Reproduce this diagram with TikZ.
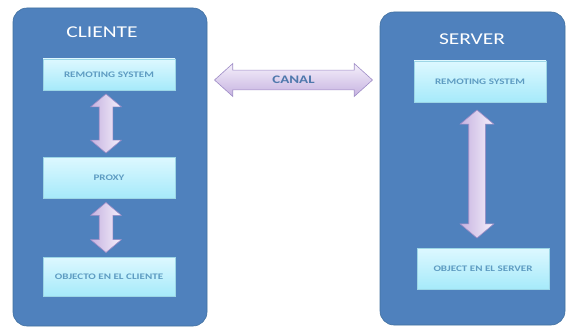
\documentclass[tikz,border=0pt]{standalone}
\usepackage{fontspec}
\setmainfont{Carlito}
\newfontfamily\widefont[FakeStretch=1.3]{Carlito}
\usetikzlibrary{
    shapes.arrows,
    shadows,
    calc,
    positioning
}
\definecolor{panelblue}{HTML}{4F81BD}
\definecolor{paneledge}{HTML}{41709F}
\definecolor{layertop}{HTML}{DDF8FF}
\definecolor{layerbot}{HTML}{A6EAFA}
\definecolor{layeredge}{HTML}{9CD6E6}
\definecolor{layertext}{HTML}{5E9CC2}
\definecolor{linktop}{HTML}{F5F0FB}
\definecolor{linkbot}{HTML}{C6B2E0}
\definecolor{linkedge}{HTML}{9E8CC6}
\definecolor{canaltext}{HTML}{4F78AC}
\tikzset{
    panel/.style={draw=paneledge, fill=panelblue, rounded corners=14pt,
      line width=0.6pt},
    paneltitle/.style={text=white, font=\widefont\fontsize{16.5}{18}\selectfont},
    layer/.style={draw=layeredge, top color=layertop, bottom color=layerbot,
      minimum width=132pt, inner sep=0pt, text=layertext,
      font=\widefont\bfseries\fontsize{8.5}{10}\selectfont,
      drop shadow={shadow xshift=0.8pt, shadow yshift=-0.8pt,
        opacity=0.35, fill=black!70}},
    link/.style={double arrow, draw=linkedge, line width=0.6pt,
      top color=linktop, bottom color=linkbot, inner xsep=0pt},
    vlink/.style={double arrow, draw=linkedge, line width=0.6pt,
      rotate=90, left color=linkbot, right color=linktop,
      inner xsep=0pt, inner ysep=6.5pt, double arrow head extend=8.5pt,
      double arrow tip angle=100}
  }

\begin{document}
\begin{tikzpicture}[x=1pt, y=-1pt]
\useasboundingbox (0,0) rectangle (571,329);

% the two sides
\node[panel, minimum width=194pt, minimum height=318pt]
  at (110,167) (cliente) {};

\node[panel, minimum width=185pt, minimum height=313pt]
  at (472.5,168.5) (server) {};

\node[paneltitle] at (102,32) (cliente_title) {CLIENTE};
\node[paneltitle] at (472,39) (server_title) {SERVER};

% client stack
\node[layer, minimum height=31pt]
  at (109,74.5) (c_remoting) {REMOTING SYSTEM};

\node[layer, minimum height=41pt]
  at (109,177.5) (c_proxy) {PROXY};

\node[layer, minimum height=39pt]
  at (109,276.5) (c_object) {OBJECTO EN EL CLIENTE};

% server stack
\node[layer, minimum height=41pt]
  at (480,81.5) (s_remoting) {REMOTING SYSTEM};

\node[layer, minimum height=41pt]
  at (483,268.5) (s_object) {OBJECT EN EL SERVER};

% links
\node[vlink, minimum height=59pt]
  at ($(c_remoting.south)!0.5!(c_proxy.north)+(-3,0)$) (c_link_one) {};

\node[vlink, minimum height=50pt]
  at ($(c_proxy.south)!0.5!(c_object.north)+(-3,0)$) (c_link_two) {};

\node[vlink, inner ysep=8pt, minimum height=128pt]
  at ($(s_remoting.south)!0.5!(s_object.north)+(-4.5,-1)$) (s_link) {};

\node[link, inner ysep=5.8pt, minimum height=158pt,
      double arrow head extend=6.5pt, double arrow tip angle=84,
      text=canaltext, font=\widefont\bfseries\fontsize{11.5}{13}\selectfont]
  at ($(cliente.east |- 0,80)!0.5!(server.west |- 0,80)$) (canal) {CANAL};

\end{tikzpicture}
\end{document}
